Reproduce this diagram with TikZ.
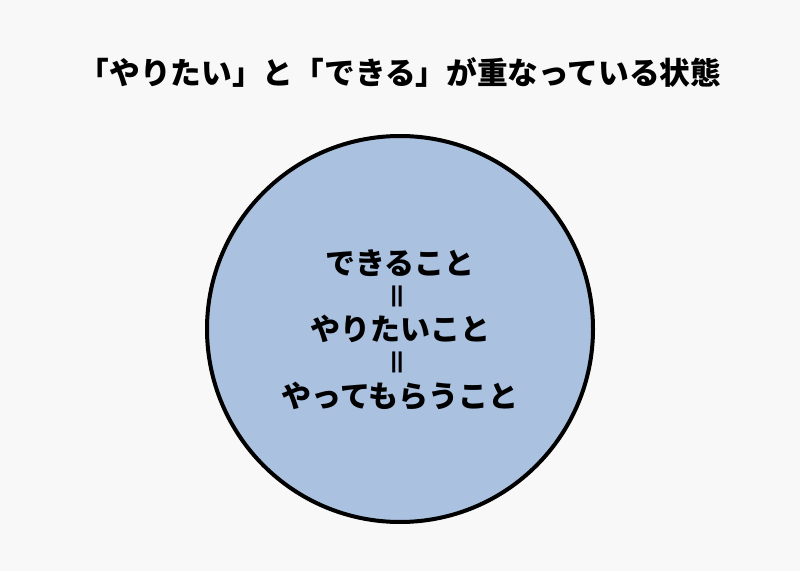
\documentclass[tikz,border=0pt]{standalone}
\usepackage{fontspec}
\newfontfamily\jpfont{Noto Sans CJK JP}
\usetikzlibrary{positioning}
\definecolor{bgcol}{HTML}{F8F8F8}
\definecolor{circcol}{HTML}{AAC1DF}
\begin{document}
\begin{tikzpicture}[x=1pt,y=1pt]
                    \tikzstyle{every node}=[inner sep=0]
                    \tikzstyle{note}=[font=\jpfont\bfseries\fontsize{30}{30}\selectfont]
                    \tikzstyle{headline}=[font=\jpfont\bfseries\fontsize{30.7}{30.7}\selectfont]
                    \tikzstyle{eqsign}=[font=\jpfont\bfseries\fontsize{24}{24}\selectfont]
                    \tikzstyle{disc}=[circle,draw=black,line width=4,fill=circcol,minimum size=386]
                    {
                        \fill[bgcol] (0,0) rectangle (800,571);
                        \useasboundingbox (0,0) rectangle (800,571);

                        \node[headline] (labeltitle) at (400, 499) {「やりたい」と「できる」が重なっている状態};

                        \node[disc] (circ) at (400, 242) {};

                        \node[note] (want) at (400, 242) {やりたいこと};
                        \node[eqsign,node distance=33] (eq1) [above of=want] {\rotatebox{90}{\scalebox{1.65}[1]{=}}};
                        \node[note,node distance=33] (can) [above of=eq1] {できること};
                        \node[eqsign,node distance=33] (eq2) [below of=want] {\rotatebox{90}{\scalebox{1.65}[1]{=}}};
                        \node[note,node distance=34] (ask) [below of=eq2] {やってもらうこと};
                    }
                \end{tikzpicture}
\end{document}
